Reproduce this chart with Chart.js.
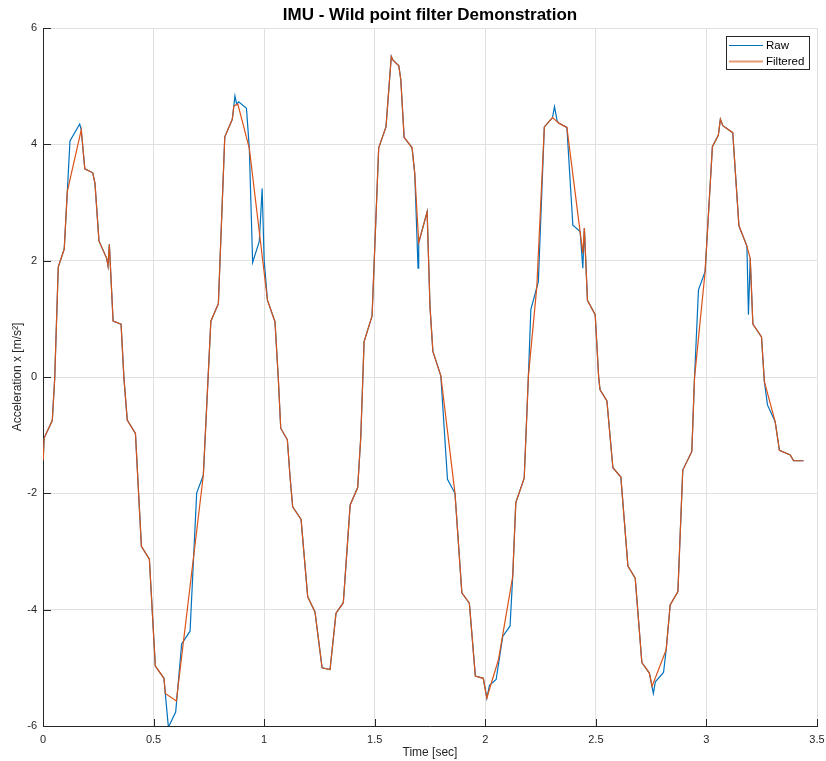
<!DOCTYPE html>
<html><head><meta charset="utf-8">
<script src="https://cdn.jsdelivr.net/npm/chart.js@4/dist/chart.umd.min.js"></script>
<style>html,body{margin:0;padding:0;background:#fff;}canvas{display:block;}</style>
</head><body>
<canvas id="c" width="826" height="761"></canvas>
<script>
// Sample times [sec]
const time = [0.001,0.005,0.042,0.053,0.069,0.096,0.110,0.122,0.166,0.173,0.189,0.225,0.235,0.253,0.288,0.294,0.300,0.317,0.353,0.366,
0.381,0.418,0.445,0.481,0.508,0.547,0.553,0.567,0.600,0.603,0.627,0.665,0.695,0.725,0.759,0.793,0.822,0.856,0.863,0.868,
0.876,0.881,0.885,0.920,0.933,0.948,0.978,0.991,1.000,1.015,1.049,1.064,1.075,1.105,1.117,1.129,1.167,1.197,1.230,1.248,
1.262,1.298,1.325,1.358,1.389,1.423,1.437,1.452,1.488,1.518,1.551,1.575,1.582,1.609,1.618,1.633,1.669,1.681,1.696,1.699,
1.737,1.750,1.763,1.799,1.829,1.863,1.894,1.928,1.955,1.991,2.007,2.019,2.029,2.049,2.059,2.079,2.112,2.124,2.138,2.176,
2.195,2.206,2.233,2.240,2.267,2.304,2.313,2.325,2.334,2.369,2.396,2.426,2.429,2.441,2.448,2.462,2.497,2.513,2.519,2.550,
2.577,2.613,2.645,2.678,2.708,2.742,2.754,2.760,2.769,2.806,2.818,2.836,2.871,2.893,2.934,2.946,2.964,2.994,3.027,3.054,
3.063,3.074,3.119,3.147,3.183,3.190,3.198,3.210,3.249,3.262,3.276,3.311,3.330,3.379,3.394,3.439];
// Raw acceleration x [m/s^2] (null = no raw sample at that time)
const raw = [-1.43,-1.05,-0.75,-0.02,1.89,2.20,3.19,4.06,4.35,4.25,3.58,3.51,3.33,2.34,2.04,1.91,2.28,0.96,0.91,-0.02,
-0.74,-0.97,-2.91,-3.13,-4.97,-5.18,-5.44,-6.02,-5.76,null,-4.59,-4.37,-1.99,-1.69,0.96,1.26,4.13,4.43,4.66,4.83,
4.69,null,4.73,4.62,3.93,1.97,2.33,3.24,2.01,1.32,0.95,-0.02,-0.88,-1.08,-1.71,-2.23,-2.45,-3.78,-4.04,-4.58,
-5.00,-5.03,-4.06,-3.88,-2.20,-1.90,-1.03,0.61,1.05,3.94,4.30,5.51,5.45,5.35,5.11,4.12,3.94,3.50,1.87,2.31,
2.84,1.21,0.44,0.02,-1.76,-2.00,-3.71,-3.89,-5.14,-5.18,-5.52,-5.30,null,-5.20,null,-4.46,-4.28,-3.43,-2.16,-1.74,
0.02,1.16,null,1.64,4.30,4.46,4.65,4.40,4.36,4.29,2.61,null,2.50,1.87,2.56,1.32,1.07,-0.02,-0.22,-0.41,
-1.56,-1.72,-3.25,-3.46,-4.91,-5.09,null,-5.44,-5.24,-5.08,-4.69,-3.92,-3.69,-1.60,-1.28,-0.02,1.50,1.81,3.96,4.16,
4.43,4.32,4.20,2.60,2.25,1.07,2.04,0.91,0.69,-0.08,-0.48,-0.77,-1.26,-1.34,-1.44,-1.44];
// Wild-point filtered acceleration x [m/s^2] (null = wild point removed)
const filtered = [-1.43,-1.05,-0.75,-0.02,1.89,2.20,3.19,null,null,4.25,3.58,3.51,3.33,2.34,2.04,1.91,2.28,0.96,0.91,-0.02,
-0.74,-0.97,-2.91,-3.13,-4.97,-5.18,-5.44,null,null,-5.57,null,null,null,-1.69,0.96,1.26,4.13,4.43,4.66,null,
null,4.69,null,null,3.93,null,null,null,null,1.32,0.95,-0.02,-0.88,-1.08,-1.71,-2.23,-2.45,-3.78,-4.04,-4.58,
-5.00,-5.03,-4.06,-3.88,-2.20,-1.90,-1.03,0.61,1.05,3.94,4.30,5.51,5.45,5.35,5.11,4.12,3.94,3.50,null,2.31,
2.84,1.21,0.44,0.02,null,-2.00,-3.71,-3.89,-5.14,-5.18,-5.52,null,-5.24,null,-4.87,null,null,-3.43,-2.16,-1.74,
0.02,null,1.55,null,4.30,4.46,null,null,4.36,4.29,null,2.58,null,2.13,2.56,1.32,1.07,-0.02,-0.22,-0.41,
-1.56,-1.72,-3.25,-3.46,-4.91,-5.09,-5.32,null,null,null,-4.69,-3.92,-3.69,-1.60,-1.28,-0.02,null,1.81,3.96,4.16,
4.43,4.32,4.20,2.60,2.25,null,2.04,0.91,0.69,-0.08,null,-0.77,-1.26,-1.34,-1.44,-1.44];
const seriesNames = ['Raw', 'Filtered'];
const xTicks = [0, 0.5, 1, 1.5, 2, 2.5, 3, 3.5];
const yTicks = [-6, -4, -2, 0, 2, 4, 6];

const FONT = "'Liberation Sans', Arial, Helvetica, sans-serif";
const AX = '#262626';
const GRID = '#e0e0e0';
const COLORS = ['#0072BD', '#D95319'];

const toXY = (vals) => time.map((t, i) => ({x: t, y: vals[i]}));

const inwardTicks = {
  id: 'inwardTicks',
  afterDraw(chart) {
    const {ctx, chartArea: a, scales: {x, y}} = chart;
    ctx.save();
    ctx.strokeStyle = AX;
    ctx.lineWidth = 1;
    ctx.beginPath();
    x.ticks.forEach(t => {
      const px = Math.round(x.getPixelForValue(t.value)) + 0.5;
      ctx.moveTo(px, a.bottom); ctx.lineTo(px, a.bottom - 7);
    });
    y.ticks.forEach(t => {
      const py = Math.round(y.getPixelForValue(t.value)) + 0.5;
      ctx.moveTo(a.left, py); ctx.lineTo(a.left + 8, py);
    });
    ctx.stroke();
    ctx.restore();
  }
};

const boxLegend = {
  id: 'boxLegend',
  afterDraw(chart) {
    const {ctx, chartArea: a} = chart;
    const w = 83, h = 33;
    const left = Math.round(a.right - 8 - w), top = Math.round(a.top + 8);
    ctx.save();
    ctx.fillStyle = '#fff';
    ctx.fillRect(left, top, w, h);
    ctx.strokeStyle = AX;
    ctx.lineWidth = 1;
    ctx.strokeRect(left + 0.5, top + 0.5, w, h);
    ctx.font = '11.5px ' + FONT;
    ctx.textBaseline = 'middle';
    ctx.textAlign = 'left';
    seriesNames.forEach((name, i) => {
      const yy = Math.round(top + 9 + i * 15.5) + 0.5;
      ctx.strokeStyle = COLORS[i];
      ctx.lineWidth = i === 1 ? 2 : 1;
      ctx.globalAlpha = i === 1 ? 0.6 : 1;
      ctx.beginPath();
      ctx.moveTo(left + 3, yy); ctx.lineTo(left + 37, yy);
      ctx.stroke();
      ctx.globalAlpha = 1;
      ctx.fillStyle = '#000';
      ctx.fillText(name, left + 40, yy);
    });
    ctx.restore();
  }
};

new Chart(document.getElementById('c'), {
  type: 'line',
  data: {
    datasets: [
      {label: seriesNames[0], data: toXY(raw), borderColor: COLORS[0], backgroundColor: COLORS[0],
       borderWidth: 1.2, pointRadius: 0, tension: 0, spanGaps: true, order: 2},
      {label: seriesNames[1], data: toXY(filtered), borderColor: COLORS[1], backgroundColor: COLORS[1],
       borderWidth: 1.2, pointRadius: 0, tension: 0, spanGaps: true, order: 1}
    ]
  },
  options: {
    responsive: false,
    devicePixelRatio: 1,
    animation: false,
    layout: {padding: 0},
    plugins: {
      legend: {display: false},
      tooltip: {enabled: false},
      title: {display: true, text: 'IMU - Wild point filter Demonstration', color: '#000', fullSize: false,
              font: {family: FONT, size: 17, weight: 'bold'}, padding: {top: 5, bottom: 2.6}}
    },
    scales: {
      x: {
        type: 'linear', min: 0, max: 3.5,
        afterBuildTicks: s => { s.ticks = xTicks.map(v => ({value: v})); },
        afterFit: s => { s.height = 35; s.paddingRight = 9; s.paddingLeft = 0; },
        ticks: {color: AX, font: {family: FONT, size: 11}, padding: 7, maxRotation: 0, autoSkip: false,
                callback: v => String(v)},
        grid: {color: GRID, drawTicks: false},
        border: {display: true, color: AX, width: 1},
        title: {display: true, text: 'Time [sec]', color: AX, font: {family: FONT, size: 12}, padding: {top: 0, bottom: 1}}
      },
      y: {
        type: 'linear', min: -6, max: 6,
        afterBuildTicks: s => { s.ticks = yTicks.map(v => ({value: v})); },
        afterFit: s => { s.width = 43; },
        ticks: {color: AX, font: {family: FONT, size: 11}, padding: 6, callback: v => String(v)},
        grid: {color: GRID, drawTicks: false},
        border: {display: true, color: AX, width: 1},
        title: {display: true, text: 'Acceleration x [m/s²]', color: AX, font: {family: FONT, size: 12}, padding: {top: 10, bottom: 0}}
      }
    }
  },
  plugins: [inwardTicks, boxLegend]
});
</script>
</body></html>
